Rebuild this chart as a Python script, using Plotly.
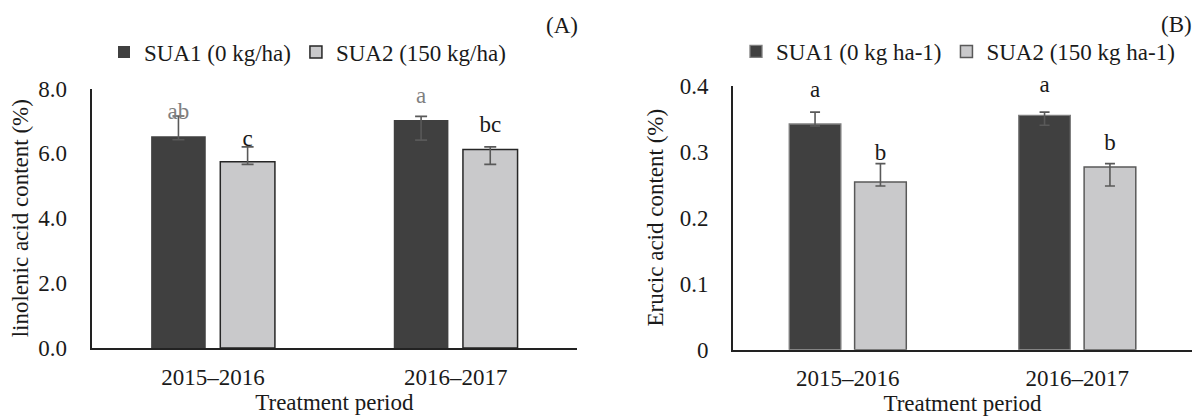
import plotly.graph_objects as go

# ---------------- data ----------------
periods = ["2015–2016", "2016–2017"]

# Panel A: linolenic acid content (%)
a_sua1 = [6.53, 7.03]
a_sua1_err_plus = [0.62, 0.11]
a_sua1_err_minus = [0.11, 0.62]
a_sua2 = [5.74, 6.12]
a_sua2_err_plus = [0.46, 0.08]
a_sua2_err_minus = [0.08, 0.46]
a_sua1_letters = ["ab", "a"]
a_sua1_letter_y = [7.25, 7.73]
a_sua2_letters = ["c", "bc"]
a_sua2_letter_y = [6.42, 6.83]

# Panel B: erucic acid content (%)
b_sua1 = [0.342, 0.355]
b_sua1_err_plus = [0.018, 0.005]
b_sua1_err_minus = [0.003, 0.015]
b_sua2 = [0.254, 0.277]
b_sua2_err_plus = [0.028, 0.005]
b_sua2_err_minus = [0.006, 0.029]
b_sua1_letters = ["a", "a"]
b_sua1_letter_y = [0.391, 0.3999]
b_sua2_letters = ["b", "b"]
b_sua2_letter_y = [0.2965, 0.3117]

a_names = ["SUA1 (0 kg/ha)", "SUA2 (150 kg/ha)"]
b_names = ["SUA1 (0 kg ha-1)", "SUA2 (150 kg ha-1)"]

# ---------------- style ----------------
FONT = "Liberation Serif, Times New Roman, serif"
FS = 23
TXT = "#1a1a1a"
DARK = "#404040"
LIGHT = "#C9C9CB"
ERR = "#595959"

fig = go.Figure()

def err(plus, minus, w):
    return dict(type="data", symmetric=False, array=plus, arrayminus=minus,
                color=ERR, thickness=1.6, width=w)

# Panel A bars
fig.add_trace(go.Bar(x=periods, y=a_sua1, name=a_names[0], marker=dict(color=DARK, line=dict(width=0)),
                     error_y=err(a_sua1_err_plus, a_sua1_err_minus, 6),
                     offsetgroup="1", xaxis="x", yaxis="y", legend="legend"))
fig.add_trace(go.Bar(x=periods, y=a_sua2, name=a_names[1], marker=dict(color=LIGHT, line=dict(color="#262626", width=1.5)),
                     error_y=err(a_sua2_err_plus, a_sua2_err_minus, 6),
                     offsetgroup="2", xaxis="x", yaxis="y", legend="legend"))
fig.add_trace(go.Scatter(x=periods, y=a_sua1_letter_y, text=a_sua1_letters, mode="text",
                         textfont=dict(family=FONT, size=FS, color="#7f7f7f"), showlegend=False,
                         offsetgroup="1", xaxis="x", yaxis="y", cliponaxis=False, hoverinfo="skip"))
fig.add_trace(go.Scatter(x=periods, y=a_sua2_letter_y, text=a_sua2_letters, mode="text",
                         textfont=dict(family=FONT, size=FS, color=TXT), showlegend=False,
                         offsetgroup="2", xaxis="x", yaxis="y", cliponaxis=False, hoverinfo="skip"))

# Panel B bars
fig.add_trace(go.Bar(x=periods, y=b_sua1, name=b_names[0], marker=dict(color=DARK, line=dict(color="#7f7f7f", width=1.3)),
                     error_y=err(b_sua1_err_plus, b_sua1_err_minus, 5),
                     offsetgroup="1", xaxis="x2", yaxis="y2", legend="legend2"))
fig.add_trace(go.Bar(x=periods, y=b_sua2, name=b_names[1], marker=dict(color=LIGHT, line=dict(color="#595959", width=1.5)),
                     error_y=err(b_sua2_err_plus, b_sua2_err_minus, 5),
                     offsetgroup="2", xaxis="x2", yaxis="y2", legend="legend2"))
fig.add_trace(go.Scatter(x=periods, y=b_sua1_letter_y, text=b_sua1_letters, mode="text",
                         textfont=dict(family=FONT, size=FS, color=TXT), showlegend=False,
                         offsetgroup="1", xaxis="x2", yaxis="y2", cliponaxis=False, hoverinfo="skip"))
fig.add_trace(go.Scatter(x=periods, y=b_sua2_letter_y, text=b_sua2_letters, mode="text",
                         textfont=dict(family=FONT, size=FS, color=TXT), showlegend=False,
                         offsetgroup="2", xaxis="x2", yaxis="y2", cliponaxis=False, hoverinfo="skip"))

W, H = 1195, 416

def xax(domain, anchor):
    return dict(domain=domain, anchor=anchor, showline=True, linecolor="#222", linewidth=2,
                showgrid=False, ticks="", ticklabelstandoff=7, automargin=False,
                tickfont=dict(family=FONT, size=FS, color=TXT),
                title=dict(text="Treatment period", font=dict(family=FONT, size=FS, color=TXT), standoff=2))

def yax(domain, anchor, rng, dtick, fmt, title, standoff):
    return dict(domain=domain, anchor=anchor, range=rng, dtick=dtick, tickformat=fmt,
                showline=True, linecolor="#222", linewidth=2, showgrid=False, zeroline=False,
                ticks="", ticklabelstandoff=18, automargin=False,
                tickfont=dict(family=FONT, size=FS, color=TXT),
                title=dict(text=title, font=dict(family=FONT, size=FS, color=TXT), standoff=standoff))

legend_common = dict(orientation="h", yanchor="middle", xanchor="left", bgcolor="rgba(0,0,0,0)",
                     font=dict(family=FONT, size=FS, color=TXT), itemwidth=30, traceorder="normal")

fig.update_layout(
    width=W, height=H,
    margin=dict(l=0, r=0, t=0, b=0),
    paper_bgcolor="white", plot_bgcolor="white",
    barmode="group", bargap=0.43, bargroupgap=0.21,
    scattermode="group", scattergap=0.43,
    xaxis=xax([91.7 / W, 577 / W], "y"),
    yaxis=yax([1 - 348 / H, 1 - 88.5 / H], "x", [0, 8], 2, ".1f", "linolenic acid content (%)", 3),
    xaxis2=xax([733 / W, 1192 / W], "y2"),
    yaxis2=yax([1 - 349.7 / H, 1 - 85.7 / H], "x2", [0, 0.4], 0.1, "", "Erucic acid content (%)", 10),
    legend=dict(x=104 / W, y=1 - 52 / H, **legend_common),
    legend2=dict(x=736 / W, y=1 - 51.5 / H, **legend_common),
    annotations=[
        dict(text="(A)", x=561.7 / W, y=1 - 25 / H, xref="paper", yref="paper", showarrow=False,
             font=dict(family=FONT, size=FS, color=TXT), xanchor="center", yanchor="middle"),
        dict(text="(B)", x=1176 / W, y=1 - 24 / H, xref="paper", yref="paper", showarrow=False,
             font=dict(family=FONT, size=FS, color=TXT), xanchor="center", yanchor="middle"),
    ],
    showlegend=True,
)

fig.write_html("out.html")
